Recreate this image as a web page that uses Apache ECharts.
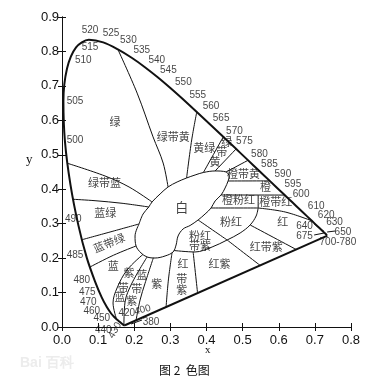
<!DOCTYPE html>
<html><head><meta charset="utf-8">
<script src="https://cdn.jsdelivr.net/npm/echarts@6/dist/echarts.min.js"></script>
<style>html,body{margin:0;padding:0;background:#fff}#c{width:386px;height:387px}</style>
</head><body><div id="c"></div>
<script>
// CIE 1931 spectral locus (wavelength, x, y)
const locusNm = [380,400,410,420,430,440,450,455,460,465,470,475,480,485,490,495,500,505,510,515,520,525,530,535,540,545,550,555,560,565,570,575,580,585,590,595,600,605,610,620,630,640,650,660,680,700];
const locusX = [0.1741,0.1733,0.1726,0.1714,0.1689,0.1644,0.1566,0.1510,0.1440,0.1355,0.1241,0.1096,0.0913,0.0687,0.0454,0.0235,0.0082,0.0039,0.0139,0.0389,0.0743,0.1142,0.1547,0.1929,0.2296,0.2658,0.3016,0.3373,0.3731,0.4087,0.4441,0.4788,0.5125,0.5448,0.5752,0.6029,0.6270,0.6482,0.6658,0.6915,0.7079,0.7190,0.7260,0.7300,0.7334,0.7347];
const locusY = [0.0050,0.0048,0.0048,0.0051,0.0069,0.0109,0.0177,0.0227,0.0297,0.0399,0.0578,0.0868,0.1327,0.2007,0.2950,0.4127,0.5384,0.6548,0.7502,0.8120,0.8338,0.8262,0.8059,0.7816,0.7543,0.7243,0.6923,0.6589,0.6245,0.5896,0.5547,0.5202,0.4866,0.4544,0.4242,0.3965,0.3725,0.3514,0.3340,0.3083,0.2920,0.2809,0.2740,0.2700,0.2666,0.2653];

// region boundaries (x, y)
const bWhite = [[0.2133,0.2991],[0.2244,0.3281],[0.2402,0.3484],[0.2493,0.3630],[0.2715,0.3862],[0.2936,0.4065],[0.3186,0.4210],[0.3449,0.4326],[0.3684,0.4413],[0.3914,0.4486],[0.4238,0.4530],[0.4543,0.4501],[0.4626,0.4355],[0.4598,0.4239],[0.4515,0.4036],[0.4404,0.3833],[0.4238,0.3659],[0.4127,0.3455],[0.3961,0.3281],[0.3767,0.3107],[0.3546,0.2947],[0.3352,0.2846],[0.3213,0.2642],[0.3158,0.2381],[0.3075,0.2178],[0.2853,0.2062],[0.2576,0.2003],[0.2355,0.2033],[0.2188,0.2149],[0.2050,0.2352],[0.2022,0.2642],[0.2133,0.2991]];
const bGreenYG = [[0.1547,0.8059],[0.208,0.679],[0.252,0.552],[0.280,0.476],[0.2936,0.4065]];
const bYGYellowGreen = [[0.3731,0.6245],[0.359,0.543],[0.3449,0.4326]];
const bYellowGreenGY = [[0.447,0.553],[0.3914,0.4486]];
const bGYYellow = [[0.482,0.517],[0.4238,0.4530]];
const bYellowYO = [[0.515,0.484],[0.4543,0.4501]];
const bYOOrange = [[0.4598,0.4239],[0.5752,0.4242]];
const bOrangeLow = [[0.4404,0.3833],[0.6165,0.383]];
const bOPinkRO = [[0.543,0.383],[0.543,0.3455]];
const bOPinkPink = [[0.4127,0.3455],[0.543,0.3455]];
const bRORed = [[0.543,0.3455],[0.6177,0.3339],[0.6915,0.3083]];
const bPinkOuter = [[0.543,0.3455],[0.5374,0.3223],[0.5208,0.2962],[0.4931,0.2729],[0.4571,0.2526],[0.4155,0.2323],[0.3684,0.2178],[0.3093,0.2221]];
const bPinkPPink = [[0.3767,0.3107],[0.4571,0.2526]];
const bRPurplePRed = [[0.4571,0.2526],[0.5485,0.1788]];
const bRedPRed = [[0.5208,0.2962],[0.6482,0.2251]];
const bRPurpleRdP = [[0.363,0.2182],[0.3753,0.0984]];
const bRdPPurple = [[0.3047,0.2163],[0.2945,0.1365],[0.2881,0.0579]];
const bPurpleBP = [[0.2529,0.2009],[0.2299,0.1269],[0.2161,0.0784],[0.205,0.0193]];
const bBPPB = [[0.2355,0.2033],[0.1939,0.1278],[0.1745,0.0726],[0.1714,0.0051]];
const bPBBlue = [[0.2244,0.211],[0.1801,0.1655],[0.1524,0.1132],[0.1413,0.0697],[0.1510,0.0227]];
const bGreenBG = [[0.0159,0.475],[0.1191,0.4384],[0.1856,0.4065],[0.2493,0.3630]];
const bBGBlueGreen = [[0.0313,0.3708],[0.0914,0.3667],[0.1662,0.3592],[0.2402,0.3484]];
const bBlueGreenGB = [[0.0556,0.2535],[0.133,0.2758],[0.2133,0.2991]];
const bGBBlue = [[0.0775,0.1742],[0.1421,0.2082],[0.2050,0.2352]];
const leaders = [[[0.1911,0.0087],[0.2216,0.0203]],[[0.698,0.299],[0.7258,0.2773]],[[0.698,0.2671],[0.7258,0.2729]],[[0.734,0.2758],[0.7562,0.2787]]];

// wavelength labels
const waveLabels = ['520','525','530','515','535','510','540','545','550','505','500','555','560','565','570','575','580','585','590','595','600','610','620','630','640','650','675','700-780','490','485','480','475','470','460','450','440','430','420','400','380'];
const waveLabelX = [0.0776,0.1357,0.1837,0.0776,0.2208,0.0590,0.2623,0.2945,0.3360,0.0360,0.0360,0.3759,0.4127,0.4404,0.4773,0.5050,0.5465,0.5742,0.6114,0.6391,0.6620,0.7036,0.7313,0.7543,0.6712,0.7776,0.6712,0.7637,0.0313,0.0360,0.0546,0.0701,0.0729,0.0823,0.1100,0.1144,0.1468,0.1792,0.2230,0.2465];
const waveLabelY = [0.8624,0.8528,0.8313,0.8110,0.8043,0.7753,0.7753,0.7462,0.7094,0.6542,0.5430,0.6736,0.6397,0.6060,0.5691,0.5380,0.5023,0.4733,0.4443,0.4143,0.3862,0.3513,0.3243,0.3049,0.2924,0.2758,0.2634,0.2468,0.3127,0.2082,0.1356,0.1016,0.0726,0.0465,0.0241,-0.0096,-0.0096,0.0392,0.0494,0.0145];

// colour-region labels
const regionNames = ['绿','绿带黄','黄绿','绿','带','黄','橙带黄','橙','橙粉红','橙带红','粉红','红','粉红','带紫','红带紫','红紫','红','带','紫','紫','紫','带','蓝','蓝','带','紫','蓝','蓝带绿','蓝绿','绿带蓝','白'];
const regionX = [0.1468,0.3083,0.3939,0.4562,0.4424,0.4238,0.5022,0.5632,0.4889,0.5914,0.4681,0.6114,0.3823,0.3823,0.5651,0.4357,0.3352,0.3316,0.3316,0.2623,0.1856,0.1698,0.1607,0.2208,0.2069,0.1931,0.1421,0.1302,0.1200,0.1177,0.3316];
const regionY = [0.5961,0.5526,0.5189,0.5380,0.5090,0.4800,0.4437,0.4074,0.3679,0.3630,0.3049,0.3049,0.2634,0.2361,0.2323,0.1821,0.1838,0.1402,0.1066,0.1257,0.1582,0.1124,0.0871,0.1510,0.1103,0.0755,0.1771,0.2439,0.3301,0.4172,0.3484];

const xTicks = ['0.0','0.1','0.2','0.3','0.4','0.5','0.6','0.7','0.8'];

const chart = echarts.init(document.getElementById('c'));
const locus = locusNm.map((n, i) => [locusX[i], locusY[i]]);
const last = locus.length - 1;

function ln(data, w, sm) {
  return {type:'line', data:data, symbol:'none', smooth:sm, silent:true, clip:false,
    lineStyle:{color:'#111', width:w}, z:3, animation:false};
}
const bounds = [bWhite,bGreenYG,bYGYellowGreen,bYellowGreenGY,bGYYellow,bYellowYO,bYOOrange,bOrangeLow,bOPinkRO,bOPinkPink,bRORed,bPinkOuter,bPinkPPink,bRPurplePRed,bRedPRed,bRPurpleRdP,bRdPPurple,bPurpleBP,bBPPB,bPBBlue,bGreenBG,bBGBlueGreen,bBlueGreenGB,bGBBlue];

const series = [ln(locus, 2, 0.3), ln([locus[0], locus[last]], 2, false)];
bounds.forEach(b => series.push(ln(b, 1, 0.35)));
leaders.forEach(b => series.push(ln(b, 1, false)));

const fontCJK = '"Noto Sans CJK SC", sans-serif';
series.push({
  type:'scatter', silent:true, clip:false, animation:false, symbolSize:1,
  itemStyle:{color:'rgba(0,0,0,0)'},
  label:{show:true, position:'inside', formatter:p=>p.name, color:'#111', fontSize:10, fontFamily:'Liberation Sans, Arial, sans-serif'},
  data: waveLabels.map((t,i) => {
    const d = {name:t, value:[waveLabelX[i], waveLabelY[i]]};
    if (t === '430') d.label = {rotate:60};
    if (t === '400') d.label = {rotate:15};
    return d;
  })
});
series.push({
  type:'scatter', silent:true, clip:false, animation:false, symbolSize:1,
  itemStyle:{color:'rgba(0,0,0,0)'},
  label:{show:true, position:'inside', formatter:p=>p.name, color:'#111', fontSize:11, fontFamily:fontCJK},
  data: regionNames.map((t,i) => {
    const d = {name:t, value:[regionX[i], regionY[i]]};
    if (t === '蓝带绿') d.label = {rotate:22};
    if (t === '白') d.label = {fontSize:13};
    return d;
  })
});

const axLine = {show:true, lineStyle:{color:'#111', width:1}};
const tick = {show:true, inside:true, length:4, lineStyle:{color:'#111'}};
chart.setOption({
  animation:false,
  backgroundColor:'#fff',
  grid:{left:62, top:17, width:289, height:310, containLabel:false},
  xAxis:[
    {type:'value', min:0, max:0.8, interval:0.1, position:'bottom', axisLine:axLine, axisTick:tick, splitLine:{show:false},
     axisLabel:{color:'#111', fontSize:13, margin:7, fontFamily:'Liberation Sans, Arial, sans-serif', formatter:(v)=>xTicks[Math.round(v*10)]}},
    {type:'value', min:0, max:0.8, interval:0.1, position:'top', axisLine:axLine, axisTick:tick, splitLine:{show:false}, axisLabel:{show:false}}
  ],
  yAxis:[
    {type:'value', min:0, max:0.9, interval:0.1, position:'left', axisLine:axLine, axisTick:tick, splitLine:{show:false},
     axisLabel:{color:'#111', fontSize:13, margin:3, fontFamily:'Liberation Sans, Arial, sans-serif', formatter:(v)=>v.toFixed(1)}},
    {type:'value', min:0, max:0.9, interval:0.1, position:'right', axisLine:axLine, axisTick:tick, splitLine:{show:false}, axisLabel:{show:false}}
  ],
  graphic:[
    {type:'text', left:26, top:153, style:{text:'y', font:'13px "Liberation Serif", serif', fill:'#111'}},
    {type:'text', left:205, top:345, style:{text:'x', font:'11px "Liberation Serif", serif', fill:'#111'}},
    {type:'text', left:159, top:364, style:{text:'图 2  色图', font:'12px "Noto Sans CJK SC", sans-serif', fill:'#111'}},
    {type:'text', left:20, top:356, style:{text:'Bai 百科', font:'bold 14px "Liberation Sans", sans-serif', fill:'#ececec'}}
  ],
  series: series
});
</script>
</body></html>
